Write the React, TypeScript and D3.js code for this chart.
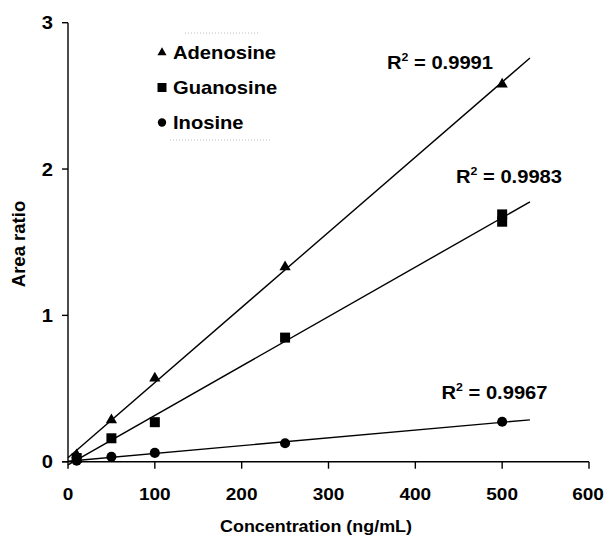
import React from "react";
import * as d3 from "d3";

const concentrations = [10, 50, 100, 250, 500];
const adenosine = [0.045, 0.285, 0.57, 1.33, 2.58];
const guanosineX = [10, 50, 100, 250, 500, 500];
const guanosine = [0.025, 0.16, 0.27, 0.848, 1.69, 1.64];
const inosine = [0.007, 0.034, 0.06, 0.126, 0.273];
const fitRange = [0, 532];
const xTicks = [0, 100, 200, 300, 400, 500, 600];
const yTicks = [0, 1, 2, 3];
const seriesNames = ["Adenosine", "Guanosine", "Inosine"];
const r2Labels = ["0.9991", "0.9983", "0.9967"];

const W = 607;
const H = 541;
const FONT = "'Liberation Sans', Arial, Helvetica, sans-serif";
const SX = 1.12;

function fit(xs: number[], ys: number[]) {
  const mx = d3.mean(xs)!;
  const my = d3.mean(ys)!;
  let sxy = 0;
  let sxx = 0;
  xs.forEach((x, i) => {
    sxy += (x - mx) * (ys[i] - my);
    sxx += (x - mx) * (x - mx);
  });
  const b = sxy / sxx;
  const a = my - b * mx;
  return (x: number) => a + b * x;
}

function T({ x, y, size, anchor = "start", children, sx = SX }: any) {
  return (
    <text
      transform={`translate(${x},${y}) scale(${sx},1)`}
      textAnchor={anchor}
      fontFamily={FONT}
      fontWeight="bold"
      fontSize={size}
      fill="#000"
    >
      {children}
    </text>
  );
}

export default function App() {
  const x = d3.scaleLinear().domain([0, 600]).range([68, 589]);
  const y = d3.scaleLinear().domain([0, 3]).range([461.7, 22.7]);

  const series = [
    { name: seriesNames[0], xs: concentrations, ys: adenosine, sym: d3.symbolTriangle, size: 55, lsize: 36 },
    { name: seriesNames[1], xs: guanosineX, ys: guanosine, sym: d3.symbolSquare, size: 100, lsize: 81 },
    { name: seriesNames[2], xs: concentrations, ys: inosine, sym: d3.symbolCircle, size: 80, lsize: 55 },
  ];

  const r2Pos = [
    { x: 387, y: 69 },
    { x: 456, y: 182.5 },
    { x: 441.5, y: 399 },
  ];

  const line = d3
    .line<number>()
    .x((d) => x(d))
    .y((d) => 0);

  return (
    <svg width={W} height={H} style={{ position: "absolute", left: 0, top: 0, background: "#fff" }}>
      <rect width={W} height={H} fill="#fff" />
      {/* fit lines */}
      {series.map((s, i) => {
        const f = fit(s.xs, s.ys);
        const path = d3
          .line<number>()
          .x((d) => x(d))
          .y((d) => y(f(d)))(fitRange);
        return <path key={"l" + i} d={path!} stroke="#000" strokeWidth={1.4} fill="none" />;
      })}
      {/* markers */}
      {series.map((s, i) =>
        s.xs.map((xv, j) => (
          <path
            key={`m${i}-${j}`}
            d={d3.symbol().type(s.sym).size(s.size)()!}
            transform={`translate(${x(xv)},${y(s.ys[j])})`}
            fill="#000"
          />
        ))
      )}
      {/* axes */}
      <line x1={68} x2={68} y1={y(3)} y2={y(0)} stroke="#000" strokeWidth={1.4} />
      <line x1={62} x2={x(600)} y1={y(0)} y2={y(0)} stroke="#000" strokeWidth={1.4} />
      {yTicks.map((t) => (
        <g key={"yt" + t}>
          <line x1={62} x2={68} y1={y(t)} y2={y(t)} stroke="#000" strokeWidth={1.4} />
          <T x={53} y={y(t) + 6.5} size={18} anchor="end">
            {t}
          </T>
        </g>
      ))}
      {xTicks.map((t) => (
        <g key={"xt" + t}>
          <line x1={x(t)} x2={x(t)} y1={y(0)} y2={y(0) + 7} stroke="#000" strokeWidth={1.4} />
          <T x={Math.min(x(t), 588)} y={500} size={17} anchor="middle">
            {t}
          </T>
        </g>
      ))}
      <T x={316} y={532} size={16} anchor="middle">
        Concentration (ng/mL)
      </T>
      <text
        transform="translate(25,244) rotate(-90)"
        textAnchor="middle"
        fontFamily={FONT}
        fontWeight="bold"
        fontSize={18.5}
      >
        Area ratio
      </text>
      {/* legend */}
      <line x1={185} x2={260} y1={33} y2={33} stroke="#bbb" strokeWidth={1} strokeDasharray="1,2" />
      <line x1={170} x2={270} y1={140} y2={140} stroke="#bbb" strokeWidth={1} strokeDasharray="1,2" />
      {series.map((s, i) => (
        <g key={"lg" + i}>
          <path
            d={d3.symbol().type(s.sym).size(s.lsize)()!}
            transform={`translate(162,${52.5 + i * 35})`}
            fill="#000"
          />
          <T x={173} y={59 + i * 35} size={18}>
            {s.name}
          </T>
        </g>
      ))}
      {/* R2 labels */}
      {r2Pos.map((p, i) => (
        <T key={"r" + i} x={p.x} y={p.y} size={18}>
          R
          <tspan fontSize={11} dy={-8}>
            2
          </tspan>
          <tspan dy={8}> = {r2Labels[i]}</tspan>
        </T>
      ))}
    </svg>
  );
}
